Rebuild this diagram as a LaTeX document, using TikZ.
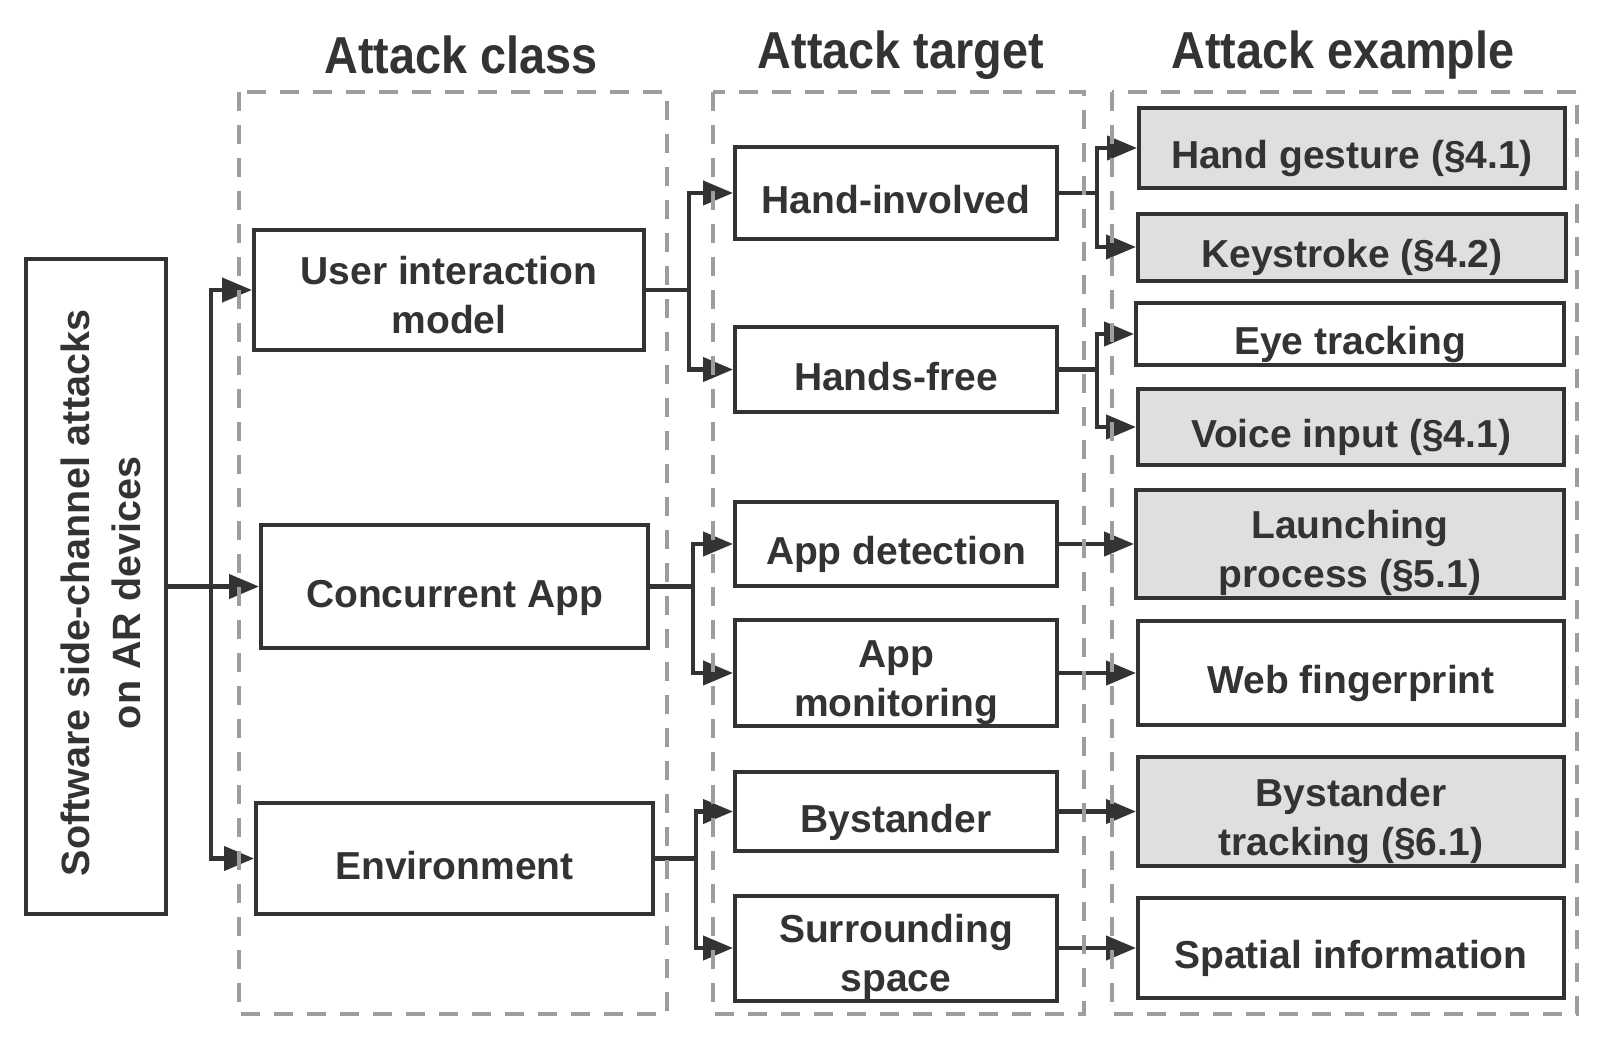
\documentclass[tikz,border=0pt]{standalone}
\usepackage{fontspec}
\setmainfont{Liberation Sans}
\newfontfamily\titlefont{Liberation Sans}[FakeStretch=0.9]
\usetikzlibrary{arrows.meta}
\definecolor{ink}{HTML}{333333}
\definecolor{dashgray}{HTML}{9E9E9E}
\definecolor{fillgray}{HTML}{DFDFDF}
\begin{document}
\begin{tikzpicture}[x=1pt,y=-1pt,
  box/.style={draw=ink, line width=4pt, fill=white, text=ink,
    font=\fontsize{39}{49}\selectfont\bfseries, align=center, inner sep=0pt,
    execute at begin node={\rule{0pt}{50pt}},
    execute at end node={\rule[-9pt]{0pt}{0pt}}},
  twoline/.style={execute at begin node={\rule{0pt}{96pt}}},
  ex/.style={box, fill=fillgray},
  conn/.style={draw=ink, line width=4.3pt},
  arr/.style={conn, -{Triangle[length=30pt,width=24pt]}},
  grp/.style={draw=dashgray, line width=4pt, dash pattern=on 19pt off 14pt},
  ttl/.style={text=ink, font=\titlefont\fontsize{52}{60}\selectfont\bfseries, inner sep=0pt}]
\useasboundingbox[fill=white] (0,0) rectangle (1598,1061);

% titles
\node[ttl] (t1) at (461,55) {Attack class};
\node[ttl] (t2) at (901,55) {Attack target};
\node[ttl] (t3) at (1343,55) {Attack example};

% root
\node[box, minimum width=140pt, minimum height=655pt] (sw) at (96,586.5) {};
\node[text=ink, font=\fontsize{39.5}{51}\selectfont\bfseries, align=center, rotate=90, inner sep=0pt] (swtext) at (101,593) {Software side-channel attacks\\on AR devices};

% attack classes
\node[box, twoline, minimum width=390pt, minimum height=120pt] (uim) at (449,290) {User interaction\\model};
\node[box, minimum width=387pt, minimum height=123pt] (ca) at (454.5,586.5) {Concurrent App};
\node[box, minimum width=397pt, minimum height=111pt] (env) at (454.5,858.5) {Environment};

% attack targets
\node[box, minimum width=322pt, minimum height=92pt] (hi) at (896,193) {Hand-involved};
\node[box, minimum width=322pt, minimum height=85pt] (hf) at (896,369.5) {Hands-free};
\node[box, minimum width=322pt, minimum height=84pt] (ad) at (896,544) {App detection};
\node[box, twoline, minimum width=322pt, minimum height=106pt] (am) at (896,673) {App\\monitoring};
\node[box, minimum width=322pt, minimum height=79pt] (by) at (896,811.5) {Bystander};
\node[box, twoline, minimum width=322pt, minimum height=104pt] (ss) at (896,948) {Surrounding\\space};

% attack examples
\node[ex, minimum width=426pt, minimum height=80pt] (hg) at (1352,148) {Hand gesture (§4.1)};
\node[ex, minimum width=428pt, minimum height=67pt] (ks) at (1352,247) {Keystroke (§4.2)};
\node[box, minimum width=428pt, minimum height=62pt] (et) at (1350,334) {Eye tracking};
\node[ex, minimum width=426pt, minimum height=76pt] (vi) at (1351,427) {Voice input (§4.1)};
\node[ex, twoline, minimum width=428pt, minimum height=108pt] (lp) at (1350,544) {Launching\\process (§5.1)};
\node[box, minimum width=426pt, minimum height=104pt] (wf) at (1351,673) {Web fingerprint};
\node[ex, twoline, minimum width=426pt, minimum height=109pt] (bt) at (1351,811.5) {Bystander\\tracking (§6.1)};
\node[box, minimum width=426pt, minimum height=100pt] (si) at (1351,948) {Spatial information};

% junctions
\coordinate (jL) at (211,586.5);
\coordinate (j1) at (689,290);
\coordinate (j2) at (693,586.5);
\coordinate (j3) at (696,858.5);
\coordinate (j4) at (1097,193);
\coordinate (j5) at (1097,369.5);

% connectors
\draw[conn] (sw) -- (jL);
\draw[arr] (jL) |- (uim);
\draw[arr] (jL) -- (ca);
\draw[arr] (jL) |- (env);

\draw[conn] (uim) -- (j1);
\draw[arr] (j1) |- (hi);
\draw[arr] (j1) |- (hf);
\draw[conn] (ca) -- (j2);
\draw[arr] (j2) |- (ad);
\draw[arr] (j2) |- (am);
\draw[conn] (env) -- (j3);
\draw[arr] (j3) |- (by);
\draw[arr] (j3) |- (ss);

\draw[conn] (hi) -- (j4);
\draw[arr] (j4) |- (hg);
\draw[arr] (j4) |- (ks);
\draw[conn] (hf) -- (j5);
\draw[arr] (j5) |- (et);
\draw[arr] (j5) |- (vi);
\draw[arr] (ad) -- (lp);
\draw[arr] (am) -- (wf);
\draw[arr] (by) -- (bt);
\draw[arr] (ss) -- (si);

% dashed groups (drawn on top)
\draw[grp] (239,92) rectangle (667,1014);
\draw[grp] (713,92) rectangle (1084,1014);
\draw[grp] (1112,92) rectangle (1577,1014);
\end{tikzpicture}
\end{document}
